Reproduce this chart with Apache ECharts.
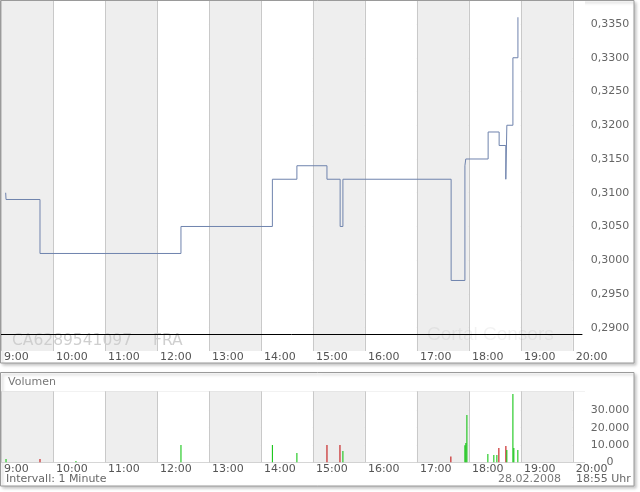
<!DOCTYPE html>
<html><head><meta charset="utf-8">
<script src="https://cdn.jsdelivr.net/npm/echarts@6/dist/echarts.min.js"></script>
<style>html,body{margin:0;padding:0;background:#fff}#c{width:640px;height:492px}</style>
</head><body><div id="c"></div>
<script>
// minutes after 9:00
const priceTimes  = [5.4, 5.8, 45, 207.7, 313.2, 341.5, 376.2, 391.4, 394.6, 519.5, 535.4, 536.4, 562.2, 574.9, 582.6, 583.8, 590.8, 596.6];
const priceValues = [0.310, 0.309, 0.301, 0.305, 0.312, 0.314, 0.312, 0.305, 0.312, 0.297, 0.314, 0.315, 0.319, 0.317, 0.312, 0.320, 0.330, 0.336];
const prevClose = 0.289;
const prevCloseSpan = [0, 671];
const volTimes  = [5.8, 45, 86.5, 207.7, 313.2, 341.5, 376.2, 391.2, 394.6, 519.2, 535.4, 536.5, 537.7, 561.9, 568.8, 572.3, 574.6, 582.7, 583.8, 590.8, 591.9, 596.5];
const volValues = [1900, 1900, 800, 10000, 10000, 5400, 10000, 10000, 6500, 3300, 9800, 11100, 27300, 4800, 4200, 4200, 8300, 9400, 7100, 39400, 8300, 7100];
const volDir    = [1, -1, 1, 1, 1, 1, -1, -1, 1, -1, 1, 1, 1, 1, 1, 1, -1, -1, 1, 1, 1, 1];
const timeLabels = ['9:00','10:00','11:00','12:00','13:00','14:00','15:00','16:00','17:00','18:00','19:00','20:00'];
const priceTicks = [0.290, 0.295, 0.300, 0.305, 0.310, 0.315, 0.320, 0.325, 0.330, 0.335];
const volTicks = [0, 10000, 20000, 30000];

const FONT = 'DejaVu Sans';
const gridColor = '#c9c9c9';
const priceData = priceTimes.map((t, i) => [t, priceValues[i]]);
const volData = volTimes.map((t, i) => ({value: [t, volValues[i]], itemStyle: {color: volDir[i] > 0 ? '#00c000' : '#c00000'}}));

function xAxisCfg(gridIndex) {
  return {
    type: 'value', gridIndex, min: 0, max: 674, interval: 60,
    axisLine: {show: false}, axisTick: {show: false},
    splitLine: {show: true, showMaxLine: false, lineStyle: {color: gridColor, width: 1}},
    splitArea: {show: true, areaStyle: {color: ['#eeeeee', '#ffffff']}},
    axisLabel: {
      showMaxLabel: false, showMinLabel: true, margin: 1, align: 'left', padding: [0, 0, 0, 3],
      color: '#555', fontFamily: FONT, fontSize: 11,
      formatter: v => timeLabels[Math.round(v / 60)] || ''
    }
  };
}

const chart = echarts.init(document.getElementById('c'), null, {renderer: 'canvas'});
chart.setOption({
  animation: false,
  backgroundColor: '#fff',
  grid: [
    {left: 1, right: 55, top: 1, bottom: 141},
    {left: 1, right: 55, top: 391.3, bottom: 29.7}
  ],
  xAxis: [xAxisCfg(0), xAxisCfg(1)],
  yAxis: [
    {
      type: 'value', gridIndex: 0, position: 'right', min: 0.28655, max: 0.33841,
      axisLine: {show: false},
      axisTick: {show: false, customValues: priceTicks},
      splitLine: {show: true, lineStyle: {color: gridColor, width: 1}},
      axisLabel: {customValues: priceTicks, margin: 25, align: 'center', color: '#666', fontFamily: FONT, fontSize: 11,
        formatter: v => v.toFixed(4).replace('.', ',')}
    },
    {
      type: 'value', gridIndex: 1, position: 'right', min: 0, max: 41000,
      axisLine: {show: false},
      axisTick: {show: false, customValues: volTicks.concat([41000])},
      splitLine: {show: true, lineStyle: {color: gridColor, width: 1}},
      axisLabel: {customValues: volTicks, margin: 25, align: 'center', color: '#666', fontFamily: FONT, fontSize: 11,
        formatter: v => v === 0 ? '0' : (v / 1000) + '.000'}
    }
  ],
  graphic: [
    {type: 'rect', z: -5, shape: {x: 0.5, y: 0.5, width: 633.5, height: 362.5},
      style: {fill: '#fff', stroke: '#9a9a9a', lineWidth: 1, shadowBlur: 3, shadowOffsetX: 2, shadowOffsetY: 2, shadowColor: 'rgba(0,0,0,0.25)'}},
    {type: 'rect', z: -5, shape: {x: 0.5, y: 372.5, width: 633.5, height: 113.5},
      style: {fill: '#fff', stroke: '#9a9a9a', lineWidth: 1, shadowBlur: 3, shadowOffsetX: 2, shadowOffsetY: 2, shadowColor: 'rgba(0,0,0,0.25)'}},
    {type: 'text', z: 1, x: 12, y: 341, style: {text: 'CA6289541097', font: '15.5px "DejaVu Sans"', fill: '#cfcfcf', verticalAlign: 'middle'}},
    {type: 'text', z: 1, x: 153, y: 341, style: {text: 'FRA', font: '15.5px "DejaVu Sans"', fill: '#cfcfcf', verticalAlign: 'middle'}},
    {type: 'text', z: 1, x: 427, y: 335, style: {text: 'Cortal Consors', font: '19px "Liberation Sans"', fill: 'rgba(0,0,0,0.05)', verticalAlign: 'middle'}},
    {type: 'text', z: 3, x: 8, y: 382.5, style: {text: 'Volumen', font: '11px "DejaVu Sans"', fill: '#777', verticalAlign: 'middle'}},
    {type: 'text', z: 3, x: 6, y: 479.5, style: {text: 'Intervall: 1 Minute', font: '11px "DejaVu Sans"', fill: '#666', verticalAlign: 'middle'}},
    {type: 'text', z: 3, x: 498, y: 479.5, style: {text: '28.02.2008', font: '11px "DejaVu Sans"', fill: '#777', verticalAlign: 'middle'}},
    {type: 'text', z: 3, x: 576, y: 479.5, style: {text: '18:55 Uhr', font: '11px "DejaVu Sans"', fill: '#666', verticalAlign: 'middle'}}
  ],
  series: [
    {
      type: 'line', xAxisIndex: 0, yAxisIndex: 0, data: priceData, step: 'end',
      showSymbol: false, lineStyle: {color: '#6f83ad', width: 1}, z: 3,
      markLine: {silent: true, symbol: 'none', precision: 4, label: {show: false},
        lineStyle: {color: '#000', width: 1, type: 'solid'},
        data: [[{coord: [prevCloseSpan[0], prevClose]}, {coord: [prevCloseSpan[1], prevClose]}]]}
    },
    {
      type: 'bar', xAxisIndex: 1, yAxisIndex: 1, data: volData, barWidth: 1, z: 3
    }
  ]
});
</script>
</body></html>
